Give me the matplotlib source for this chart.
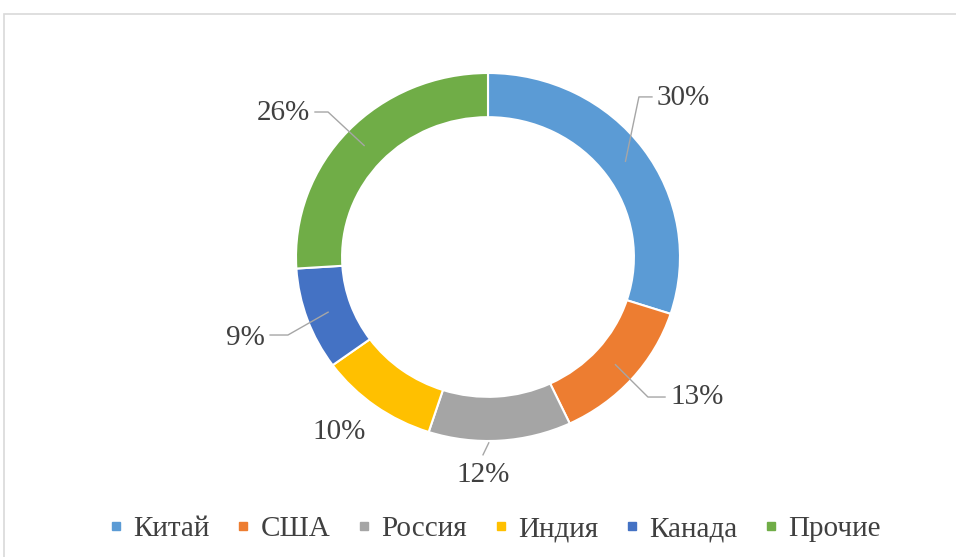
import matplotlib
matplotlib.use('Agg')
import matplotlib.pyplot as plt
from matplotlib.lines import Line2D
from matplotlib.patches import Rectangle
import numpy as np

# data
countries = ['Китай', 'США', 'Россия', 'Индия', 'Канада', 'Прочие']
shares = [30, 13, 12, 10, 9, 26]
pct_labels = ['30%', '13%', '12%', '10%', '9%', '26%']
colors = ['#5b9bd5', '#ed7d31', '#a5a5a5', '#ffc000', '#4472c4', '#70ad47']

# label layout: text position (data units), alignment, leader elbow
label_pos = [(0.88, 0.864), (0.948, -0.761), (-0.026, -1.185),
             (-0.776, -0.951), (-1.161, -0.440), (-0.927, 0.783)]
label_ha = ['left', 'left', 'center', 'center', 'right', 'right']
elbows = [(0.786, 0.870), (0.833, -0.761), 'down', 'none',
          (-1.042, -0.424), (-0.833, 0.788)]

plt.rcParams['font.family'] = ['Liberation Serif', 'DejaVu Serif']
text_color = '#404040'
line_color = '#a6a6a6'

fig = plt.figure(figsize=(9.56, 5.57), dpi=100)

# light frame of the chart area (top and left edges visible)
fig.patches.append(Rectangle((4 / 956, -0.1), 1.2, (557 - 14) / 557 + 0.1,
                             transform=fig.transFigure, fill=False,
                             edgecolor='#d9d9d9', linewidth=1.2))

ax = fig.add_axes([296 / 956, (557 - 441) / 557, 384 / 956, 368 / 557])
wedges, _ = ax.pie(shares, colors=colors, startangle=90, counterclock=False,
                   radius=1.0, wedgeprops=dict(width=0.24, edgecolor='white',
                                               linewidth=1.5))
ax.set_aspect('auto')
ax.set_xlim(-1, 1)
ax.set_ylim(-1, 1)

for w, lab, pos, ha, elb in zip(wedges, pct_labels, label_pos, label_ha, elbows):
    mid = np.deg2rad((w.theta1 + w.theta2) / 2)
    ax.text(pos[0], pos[1], lab, ha=ha, va='center', fontsize=21,
            color=text_color)
    if elb == 'none':
        continue
    if elb == 'down':
        # short leader just under the outer edge
        ax.plot([pos[0] + 0.03, pos[0]], [-1.01, pos[1] + 0.11],
                color=line_color, lw=1, clip_on=False)
        continue
    x0, y0 = np.cos(mid) * 0.885, np.sin(mid) * 0.885
    sign = 1 if ha == 'left' else -1
    end_x = pos[0] - sign * 0.026
    ax.plot([x0, elb[0], end_x], [y0, elb[1], elb[1]],
            color=line_color, lw=1, clip_on=False)

handles = [Line2D([], [], linestyle='none', marker='s', markersize=6,
                  markerfacecolor=c, markeredgecolor=c) for c in colors]
fig.legend(handles, countries, loc='center', bbox_to_anchor=(494 / 956, 1 - 529 / 557),
           ncol=6, frameon=False, fontsize=21, handlelength=0.6,
           handletextpad=0.3, columnspacing=0.85, labelcolor=text_color)

fig.savefig('out.png', dpi=100)
